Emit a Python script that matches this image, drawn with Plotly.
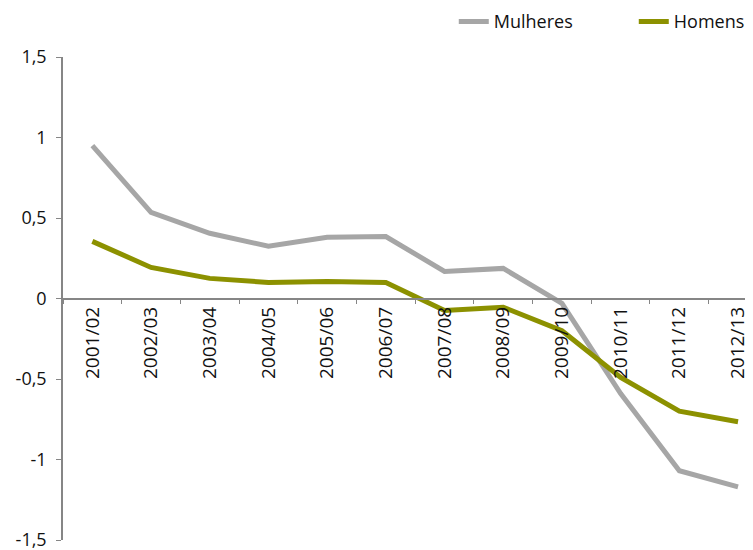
import plotly.graph_objects as go

# anos letivos e variação por sexo
anos = ['2001/02', '2002/03', '2003/04', '2004/05', '2005/06', '2006/07',
        '2007/08', '2008/09', '2009/10', '2010/11', '2011/12', '2012/13']
mulheres = [0.95, 0.535, 0.405, 0.325, 0.38, 0.385, 0.168, 0.187, -0.03, -0.59, -1.07, -1.17]
homens = [0.355, 0.193, 0.125, 0.10, 0.106, 0.10, -0.075, -0.054, -0.20, -0.49, -0.70, -0.765]

y_ticks = [-1.5, -1, -0.5, 0, 0.5, 1, 1.5]
y_labels = ['-1,5', '-1', '-0,5', '0', '0,5', '1', '1,5']

fig = go.Figure()
fig.add_trace(go.Scatter(x=anos, y=mulheres, name='Mulheres', mode='lines',
                         line=dict(color='#A6A6A6', width=5)))
fig.add_trace(go.Scatter(x=anos, y=homens, name='Homens', mode='lines',
                         line=dict(color='#8C9100', width=5)))

# the page body adds ~8px, so margins are shifted to compensate
fig.update_layout(
    width=753, height=550,
    margin=dict(l=55, r=8, t=49, b=18, autoexpand=False),
    plot_bgcolor='white', paper_bgcolor='white',
    font=dict(family='Open Sans, sans-serif', size=18, color='#111111'),
    showlegend=True,
    legend=dict(orientation='h', xref='container', yref='container',
                x=0.592, xanchor='left', y=0.975, yanchor='middle',
                font=dict(size=18), entrywidth=135,
                bgcolor='rgba(0,0,0,0)'),
    xaxis=dict(type='category', range=[-0.5, 11.255], anchor='free', position=0.5,
               automargin=False,
               showline=True, linecolor='#868686', linewidth=1.5,
               ticks='outside', tickson='boundaries', ticklen=5, tickcolor='#868686',
               tickangle=-90, tickfont=dict(size=19),
               showgrid=False, zeroline=False),
    yaxis=dict(range=[-1.5, 1.5], tickvals=y_ticks, ticktext=y_labels,
               automargin=False,
               showline=True, linecolor='#868686', linewidth=1.5,
               ticks='outside', ticklen=5, tickcolor='#868686',
               tickfont=dict(size=18), ticklabelstandoff=6,
               showgrid=False, zeroline=False),
)

fig.write_html("out.html")
